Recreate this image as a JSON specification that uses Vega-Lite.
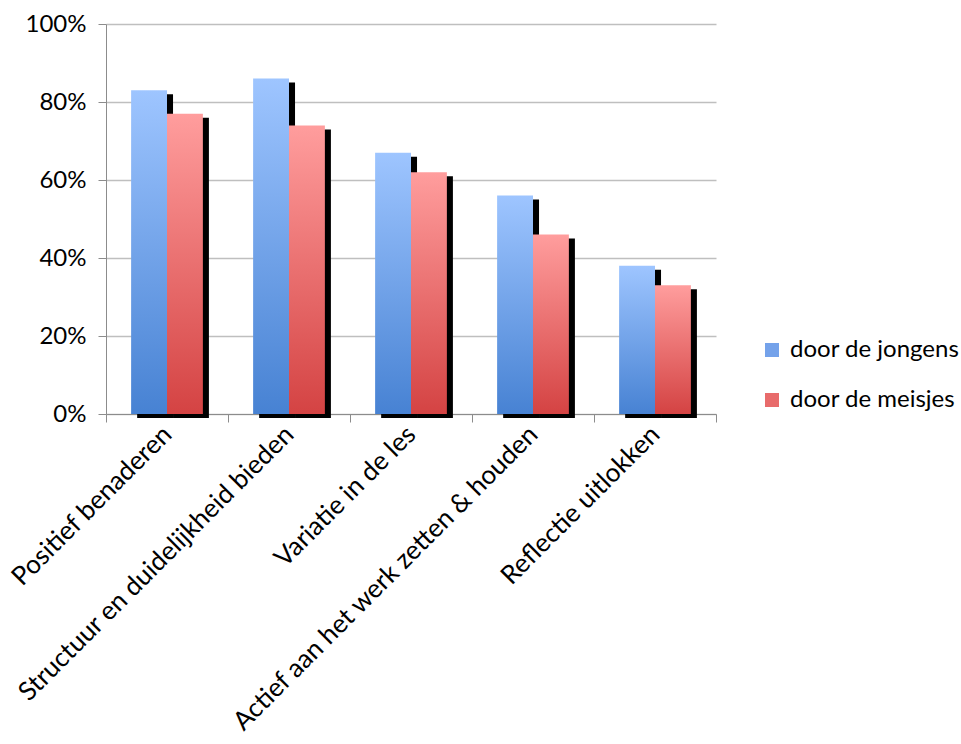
{
  "$schema": "https://vega.github.io/schema/vega-lite/v6.json",
  "width": 610,
  "height": 390,
  "autosize": {"type": "none"},
  "padding": {"left": 106, "top": 24, "right": 245, "bottom": 330},
  "background": "white",
  "config": {
    "view": {"stroke": null},
    "font": "Lato",
    "axis": {"labelFont": "Lato", "labelColor": "black", "titleFont": "Lato"},
    "legend": {"labelFont": "Lato", "labelFontSize": 24, "labelColor": "black", "labelLimit": 0}
  },
  "data": {
    "values": [
      {"category": "Positief benaderen", "series": "door de jongens", "value": 0.83},
      {"category": "Positief benaderen", "series": "door de meisjes", "value": 0.77},
      {"category": "Structuur en duidelijkheid bieden", "series": "door de jongens", "value": 0.86},
      {"category": "Structuur en duidelijkheid bieden", "series": "door de meisjes", "value": 0.74},
      {"category": "Variatie in de les", "series": "door de jongens", "value": 0.67},
      {"category": "Variatie in de les", "series": "door de meisjes", "value": 0.62},
      {"category": "Actief aan het werk zetten & houden", "series": "door de jongens", "value": 0.56},
      {"category": "Actief aan het werk zetten & houden", "series": "door de meisjes", "value": 0.46},
      {"category": "Reflectie uitlokken", "series": "door de jongens", "value": 0.38},
      {"category": "Reflectie uitlokken", "series": "door de meisjes", "value": 0.33}
    ]
  },
  "encoding": {
    "x": {
      "field": "category",
      "type": "nominal",
      "sort": null,
      "scale": {"paddingInner": 0, "paddingOuter": 0},
      "axis": {
        "title": null,
        "tickBand": "extent",
        "domainColor": "#8c8c8c",
        "tickColor": "#8c8c8c",
        "tickSize": 8,
        "labelAngle": -45,
        "labelAlign": "right",
        "labelBaseline": "middle",
        "labelPadding": 8,
        "labelFontSize": 26,
        "labelLimit": 0,
        "grid": false
      }
    },
    "y": {
      "field": "value",
      "type": "quantitative",
      "scale": {"domain": [0, 1], "nice": false},
      "axis": {
        "title": null,
        "format": ".0%",
        "values": [0, 0.2, 0.4, 0.6, 0.8, 1],
        "domainColor": "#8c8c8c",
        "tickColor": "#8c8c8c",
        "tickSize": 8,
        "labelPadding": 12,
        "labelFontSize": 24,
        "gridColor": "#bfbfbf",
        "gridWidth": 1.5
      }
    }
  },
  "layer": [
    {
      "mark": {"type": "bar", "color": "black", "yOffset": 4, "y2Offset": 0},
      "encoding": {
        "xOffset": {
          "field": "series",
          "type": "nominal",
          "scale": {"domain": ["door de jongens", "door de meisjes"], "paddingInner": 0, "paddingOuter": 0.7, "align": 0.62}
        }
      }
    },
    {
      "layer": [
        {
          "transform": [{"filter": "datum.series === 'door de jongens'"}],
          "mark": {
            "type": "bar",
            "fill": {
              "gradient": "linear", "x1": 0, "y1": 0, "x2": 0, "y2": 1,
              "stops": [{"offset": 0, "color": "#9ec5ff"}, {"offset": 1, "color": "#4782d3"}]
            }
          }
        },
        {
          "transform": [{"filter": "datum.series === 'door de meisjes'"}],
          "mark": {
            "type": "bar",
            "fill": {
              "gradient": "linear", "x1": 0, "y1": 0, "x2": 0, "y2": 1,
              "stops": [{"offset": 0, "color": "#ff9d9d"}, {"offset": 1, "color": "#d44343"}]
            }
          }
        },
        {
          "mark": {"type": "bar"},
          "encoding": {
            "y": {"datum": 0, "type": "quantitative"},
            "y2": {"datum": 0},
            "color": {
              "field": "series",
              "type": "nominal",
              "scale": {"domain": ["door de jongens", "door de meisjes"], "range": ["#74a2ea", "#e86b6b"]},
              "legend": {
                "title": null,
                "orient": "none",
                "legendX": 654,
                "legendY": 314,
                "symbolType": "square",
                "symbolSize": 196,
                "symbolStrokeWidth": 0,
                "rowPadding": 26,
                "labelOffset": 6,
                "labelLimit": 0
              }
            }
          }
        }
      ],
      "encoding": {
        "xOffset": {
          "field": "series",
          "type": "nominal",
          "scale": {"domain": ["door de jongens", "door de meisjes"], "paddingInner": 0, "paddingOuter": 0.7}
        }
      }
    }
  ],
  "resolve": {"scale": {"xOffset": "independent"}}
}
